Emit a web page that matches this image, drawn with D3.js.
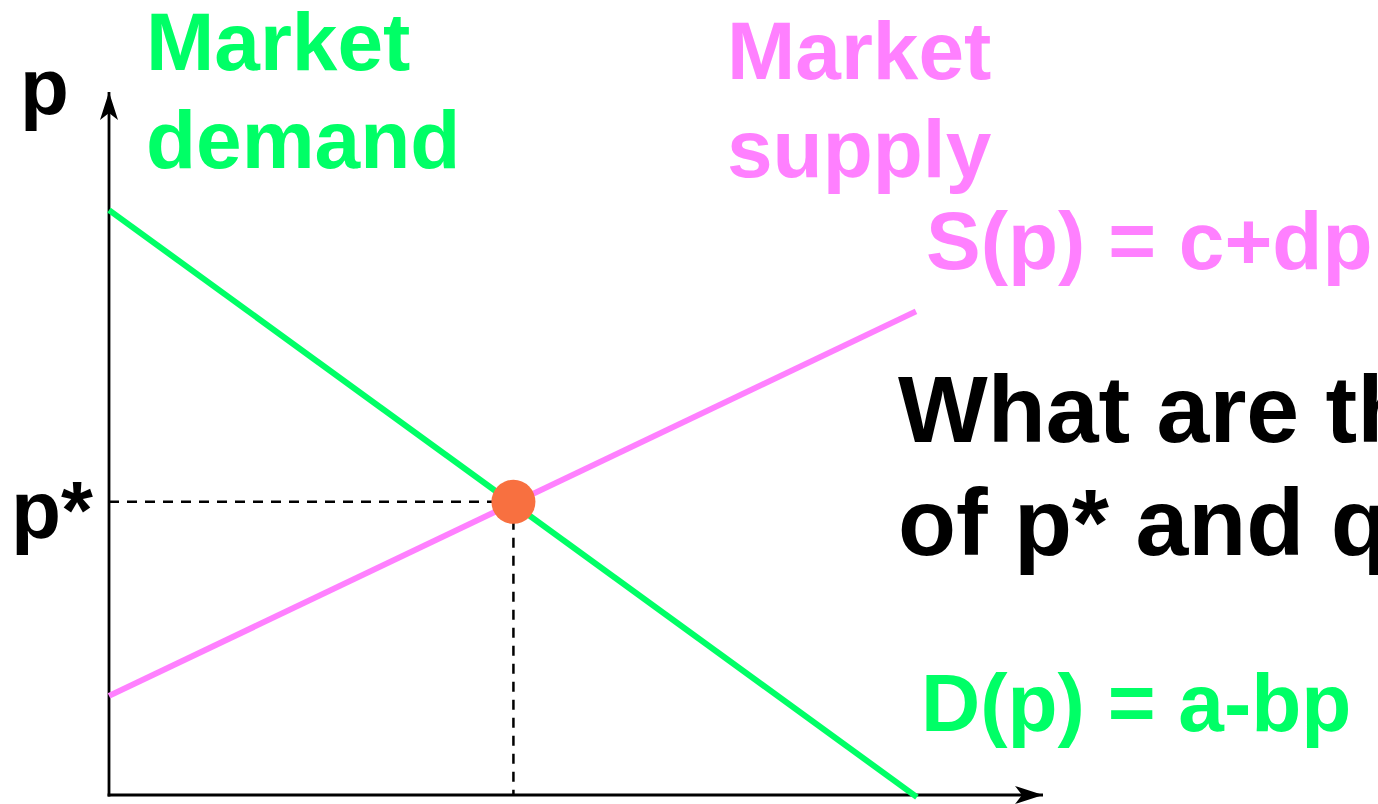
<!DOCTYPE html>
<html>
<head>
<meta charset="utf-8">
<script src="https://cdn.jsdelivr.net/npm/d3@7"></script>
<style>
  html, body { margin: 0; padding: 0; background: #fff; overflow: hidden; }
  svg { display: block; }
  text { font-family: "Liberation Sans", Arial, sans-serif; font-weight: bold; }
</style>
</head>
<body>
<svg id="chart" width="1378" height="804"></svg>
<script>
// Data (abstract units, q on x, p on y)
const demandQ = [0, 86.5];
const demandP = [83.2, -0.3];
const supplyQ = [0, 86.4];
const supplyP = [14.1, 68.8];
const equilibriumQ = [43.3];
const equilibriumP = [41.7];
const axisLabels = ["p", "p*"];
const curveLabels = ["Market", "demand", "Market", "supply", "S(p) = c+dp", "D(p) = a-bp"];
const questionLines = ["What are the values", "of p* and q*?"];

const green = "#00FF66", pink = "#FF80FF", orange = "#F87040";

const svg = d3.select("#chart");
const x = d3.scaleLinear().domain([0, 100]).range([109, 1043]);
const y = d3.scaleLinear().domain([0, 100]).range([795, 92]);

// markers
const defs = svg.append("defs");
defs.append("marker").attr("id", "arr").attr("viewBox", "0 0 28 20")
  .attr("refX", 28).attr("refY", 10).attr("markerWidth", 28).attr("markerHeight", 20)
  .attr("markerUnits", "userSpaceOnUse").attr("orient", "auto")
  .append("path").attr("d", "M0,1 L28,10 L0,19 L7,10 Z").attr("fill", "#000");

// axes
svg.append("line").attr("x1", x(0)).attr("y1", y(0) + 1.5).attr("x2", x(0)).attr("y2", y(100))
  .attr("stroke", "#000").attr("stroke-width", 2.8).attr("marker-end", "url(#arr)");
svg.append("line").attr("x1", x(0) - 1.4).attr("y1", y(0)).attr("x2", x(100)).attr("y2", y(0))
  .attr("stroke", "#000").attr("stroke-width", 2.8).attr("marker-end", "url(#arr)");

// dashed guides
svg.append("line").attr("x1", x(0)).attr("y1", y(equilibriumP[0])).attr("x2", x(equilibriumQ[0])).attr("y2", y(equilibriumP[0]))
  .attr("stroke", "#000").attr("stroke-width", 2.5).attr("stroke-dasharray", "10,8");
svg.append("line").attr("x1", x(equilibriumQ[0])).attr("y1", y(equilibriumP[0])).attr("x2", x(equilibriumQ[0])).attr("y2", y(0))
  .attr("stroke", "#000").attr("stroke-width", 2.5).attr("stroke-dasharray", "10,8");

const line = d3.line().x(d => x(d[0])).y(d => y(d[1]));
svg.append("path").datum(demandQ.map((q, i) => [q, demandP[i]]))
  .attr("d", line).attr("fill", "none").attr("stroke", green).attr("stroke-width", 6);
svg.append("path").datum(supplyQ.map((q, i) => [q, supplyP[i]]))
  .attr("d", line).attr("fill", "none").attr("stroke", pink).attr("stroke-width", 6);

svg.selectAll("circle.eq").data(equilibriumQ).join("circle").attr("class", "eq")
  .attr("cx", d => x(d)).attr("cy", (d, i) => y(equilibriumP[i])).attr("r", 22).attr("fill", orange);

// texts
function txt(s, tx, ty, size, color) {
  svg.append("text").attr("x", tx).attr("y", ty).attr("font-size", size).attr("fill", color).text(s);
}
txt(axisLabels[0], 20, 114, 80, "#000");
txt(axisLabels[1], 11, 538, 82, "#000");
txt(curveLabels[0], 146, 70, 82, green);
txt(curveLabels[1], 146, 168, 82, green);
txt(curveLabels[2], 727, 79, 82, pink);
txt(curveLabels[3], 727, 177, 82, pink);
txt(curveLabels[4], 926, 269, 82, pink);
txt(curveLabels[5], 921, 731, 82, green);
txt(questionLines[0], 898, 442, 95, "#000");
txt(questionLines[1], 898, 555, 95, "#000");
</script>
</body>
</html>
